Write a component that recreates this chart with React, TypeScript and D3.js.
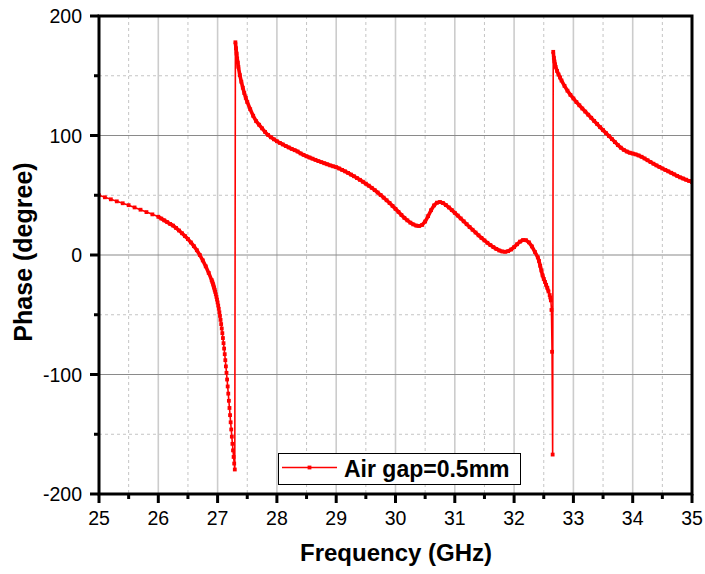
import React from "react";
import * as d3 from "d3";

// ---- data ----
const freqGHz: number[] = [
  25.0, 25.1, 25.2, 25.3, 25.4, 25.5, 25.6, 25.7, 25.8, 25.9, 26.0,
  26.05, 26.1, 26.15, 26.2, 26.25, 26.3, 26.35, 26.4, 26.45, 26.5, 26.55, 26.6, 26.65, 26.7, 26.75, 26.8, 26.85, 26.9,
  26.91, 26.92, 26.93, 26.94, 26.95, 26.96, 26.97, 26.98, 26.99, 27.0,
  27.01, 27.02, 27.03, 27.04, 27.05, 27.06, 27.07, 27.08, 27.09, 27.1,
  27.11, 27.12, 27.13, 27.14, 27.15, 27.16, 27.17, 27.18, 27.19, 27.2,
  27.21, 27.22, 27.23, 27.24, 27.25, 27.26, 27.27, 27.28, 27.29,
  27.3, 27.31, 27.32, 27.33, 27.34, 27.35, 27.375, 27.4, 27.425, 27.45, 27.475, 27.5,
  27.55, 27.6, 27.65, 27.7, 27.75, 27.8, 27.85, 27.9, 27.95, 28.0,
  28.05, 28.1, 28.15, 28.2, 28.25, 28.3, 28.35, 28.4, 28.45, 28.5,
  28.55, 28.6, 28.65, 28.7, 28.75, 28.8, 28.85, 28.9, 28.95, 29.0,
  29.05, 29.1, 29.15, 29.2, 29.25, 29.3, 29.35, 29.4, 29.45, 29.5,
  29.55, 29.6, 29.65, 29.7, 29.75, 29.8, 29.85, 29.9, 29.95, 30.0,
  30.05, 30.1, 30.15, 30.2, 30.25, 30.3, 30.35, 30.4, 30.45, 30.5,
  30.55, 30.6, 30.65, 30.7, 30.75, 30.8, 30.85, 30.9, 30.95, 31.0,
  31.05, 31.1, 31.15, 31.2, 31.25, 31.3, 31.35, 31.4, 31.45, 31.5,
  31.55, 31.6, 31.65, 31.7, 31.75, 31.8, 31.85, 31.9, 31.95, 32.0,
  32.05, 32.1, 32.15, 32.2, 32.25, 32.3, 32.35, 32.4,
  32.42, 32.44, 32.46, 32.48, 32.5, 32.52, 32.54, 32.56, 32.58, 32.6,
  32.61, 32.62, 32.63, 32.64, 32.65,
  32.66, 32.67, 32.68, 32.69, 32.7, 32.725, 32.75, 32.775, 32.8,
  32.85, 32.9, 32.95, 33.0,
  33.05, 33.1, 33.15, 33.2, 33.25, 33.3, 33.35, 33.4, 33.45, 33.5,
  33.55, 33.6, 33.65, 33.7, 33.75, 33.8, 33.85, 33.9, 33.95, 34.0,
  34.05, 34.1, 34.15, 34.2, 34.25, 34.3, 34.35, 34.4, 34.45, 34.5,
  34.55, 34.6, 34.65, 34.7, 34.75, 34.8, 34.85, 34.9, 34.95, 35.0,
];

const phaseDeg: number[] = [
  50, 48.3, 46.6, 44.9, 43.3, 41.7, 39.8, 37.9, 35.9, 34, 32,
  30.5, 29, 27.5, 26, 24.6, 22.6, 20.5, 18.2, 15.8, 13.3, 10.5, 7.4, 4, 0, -4.5, -9.5, -15, -21,
  -22.4, -23.9, -25.5, -27.2, -29, -30.9, -32.9, -35, -37.3, -39.7,
  -42.3, -45, -47.9, -51, -54.3, -57.8, -61.5, -65.4, -69.5, -73.8,
  -78.3, -83, -88, -93.2, -98.6, -104.2, -110, -116, -122, -128,
  -134, -140, -146, -152, -158, -163.5, -169, -174.5, -179.5,
  178, 173, 168.5, 164.5, 161, 157.5, 150.5, 145, 140, 135.5, 131.5, 128,
  122, 116.5, 112, 109, 106, 103, 100.5, 98.5, 96.8, 95.2,
  93.8, 92.5, 91.2, 90, 88.8, 87.7, 86.6, 85, 83.8, 82.6,
  81.6, 80.6, 79.6, 78.6, 77.7, 76.8, 75.9, 75, 74.2, 73.5,
  72.4, 71.2, 70, 68.7, 67.3, 65.9, 64.4, 62.9, 61.3, 59.7,
  58, 56.2, 54.3, 52.3, 50.2, 48, 45.8, 43.5, 41.1, 38.6,
  36.1, 33.5, 31.1, 29, 27.1, 25.6, 24.6, 24.3, 25.2, 28,
  32.5, 37.5, 41.5, 43.8, 44.3, 43.5, 41.8, 39.8, 37.6, 35.3,
  33, 30.6, 28.2, 25.8, 23.4, 21.1, 18.8, 16.5, 14.3, 12.2,
  10.2, 8.3, 6.6, 5.1, 3.8, 3, 2.7, 3.2, 4.6, 6.6,
  9, 11.2, 12.5, 12.4, 10.6, 7.2, 2.6, -2,
  -5, -9, -13, -17, -20, -22.5, -25, -27.5, -30.5, -33.5,
  -35.5, -38, -46, -81, -167,
  170, 165, 162, 159.5, 157.5, 154, 151, 148.5, 146,
  141.5, 137.5, 134, 131,
  128, 125.3, 122.6, 120, 117.4, 114.8, 112.2, 109.6, 107, 104.5,
  102, 99.5, 97, 94.5, 92, 89.8, 88, 86.6, 85.6, 84.9,
  84.2, 83.3, 82.2, 80.8, 79.3, 77.8, 76.4, 75, 73.7, 72.4,
  71.2, 70, 68.8, 67.5, 66.2, 65, 64, 63, 62, 61,
];

const xTicks: number[] = [25, 26, 27, 28, 29, 30, 31, 32, 33, 34, 35];
const yTicks: number[] = [-200, -100, 0, 100, 200];
const seriesName = "Air gap=0.5mm";
const xTitle = "Frequency (GHz)";
const yTitle = "Phase (degree)";

export default function App() {
  const W = 705, H = 574;
  const left = 99, right = 692, top = 16, bottom = 494;
  const x = d3.scaleLinear().domain([25, 35]).range([left, right]);
  const y = d3.scaleLinear().domain([-200, 200]).range([bottom, top]);
  const pts = freqGHz.map((f, i) => [f, phaseDeg[i]] as [number, number]);
  const line = d3.line<[number, number]>().x((d) => x(d[0])).y((d) => y(d[1]));

  // runs where the original markers overlap densely (render as a solid band)
  const runs: [number, number][][] = [];
  let cur: [number, number][] = [];
  pts.forEach((p, i) => {
    if (i > 0) {
      const prev = pts[i - 1];
      const df = p[0] - prev[0];
      const slope = (p[1] - prev[1]) / df;
      const mean = (p[1] + prev[1]) / 2;
      const sparse = df >= 0.09 || Math.abs(slope) > 3000 || (mean < -30 && slope < -100);
      if (sparse) {
        if (cur.length > 1) runs.push(cur);
        cur = [];
      }
    }
    cur.push(p);
  });
  if (cur.length > 1) runs.push(cur);

  const xMinor = d3.range(25.5, 35, 1);
  const yMinor = d3.range(-150, 200, 100);
  const font = "'Liberation Sans', Arial, Helvetica, sans-serif";
  const red = "#ff0000";
  const ms = 3.8;

  return (
    <svg width={W} height={H} style={{ position: "absolute", left: 0, top: 0 }} xmlns="http://www.w3.org/2000/svg">
      <rect x={0} y={0} width={W} height={H} fill="#fff" />
      <defs>
        <clipPath id="plotclip">
          <rect x={left} y={top - 2} width={right - left} height={bottom - top + 4} />
        </clipPath>
      </defs>
      {/* minor dashed grid */}
      {xMinor.map((v) => (
        <line key={"xm" + v} x1={x(v)} x2={x(v)} y1={top} y2={bottom} stroke="#c4c4c4" strokeWidth={1} strokeDasharray="3,3" />
      ))}
      {yMinor.map((v) => (
        <line key={"ym" + v} x1={left} x2={right} y1={y(v)} y2={y(v)} stroke="#c4c4c4" strokeWidth={1} strokeDasharray="3,3" />
      ))}
      {/* major grid */}
      {xTicks.slice(1, -1).map((v) => (
        <line key={"xg" + v} x1={x(v)} x2={x(v)} y1={top} y2={bottom} stroke="#cccccc" strokeWidth={1.6} />
      ))}
      {yTicks.slice(1, -1).map((v) => (
        <line key={"yg" + v} x1={left} x2={right} y1={y(v)} y2={y(v)} stroke="#8a8a8a" strokeWidth={1.1} />
      ))}

      {/* data */}
      <g clipPath="url(#plotclip)">
        <path d={line(pts) || ""} fill="none" stroke={red} strokeWidth={1.6} />
        {runs.map((r, i) => (
          <path key={"run" + i} d={line(r) || ""} fill="none" stroke={red} strokeWidth={3.6} strokeLinejoin="round" />
        ))}
        {pts.map((d, i) => (
          <rect key={i} x={x(d[0]) - ms / 2} y={y(d[1]) - ms / 2} width={ms} height={ms} fill={red} />
        ))}
      </g>

      {/* frame */}
      <rect x={left} y={top} width={right - left} height={bottom - top} fill="none" stroke="#000" strokeWidth={3} />

      {/* x ticks */}
      {xTicks.map((v) => (
        <g key={"xt" + v}>
          <line x1={x(v)} x2={x(v)} y1={bottom} y2={bottom + 9} stroke="#000" strokeWidth={3} />
          <text x={x(v)} y={525} textAnchor="middle" fontFamily={font} fontSize={19.5} fill="#000">{v}</text>
        </g>
      ))}
      {xMinor.map((v) => (
        <line key={"xmt" + v} x1={x(v)} x2={x(v)} y1={bottom} y2={bottom + 5} stroke="#000" strokeWidth={3} />
      ))}
      {/* y ticks */}
      {yTicks.map((v) => (
        <g key={"yt" + v}>
          <line x1={left - 9} x2={left} y1={y(v)} y2={y(v)} stroke="#000" strokeWidth={3} />
          <text x={82} y={y(v) + 7} textAnchor="end" fontFamily={font} fontSize={19.5} fill="#000">{v}</text>
        </g>
      ))}
      {yMinor.map((v) => (
        <line key={"ymt" + v} x1={left - 5} x2={left} y1={y(v)} y2={y(v)} stroke="#000" strokeWidth={3} />
      ))}

      {/* titles */}
      <text x={396} y={561} textAnchor="middle" fontFamily={font} fontWeight="bold" fontSize={24} fill="#000">{xTitle}</text>
      <text transform={`translate(32, 252) rotate(-90)`} textAnchor="middle" fontFamily={font} fontWeight="bold" fontSize={25} fill="#000">{yTitle}</text>

      {/* legend */}
      <rect x={278.5} y={453.5} width={242} height={31} fill="#fff" stroke="#000" strokeWidth={1} />
      <line x1={282} x2={337} y1={467.5} y2={467.5} stroke={red} strokeWidth={1.6} />
      <rect x={309.5 - ms / 2} y={467.5 - ms / 2} width={ms} height={ms} fill={red} />
      <text x={344} y={477} fontFamily={font} fontWeight="bold" fontSize={23} fill="#000">{seriesName}</text>
    </svg>
  );
}
